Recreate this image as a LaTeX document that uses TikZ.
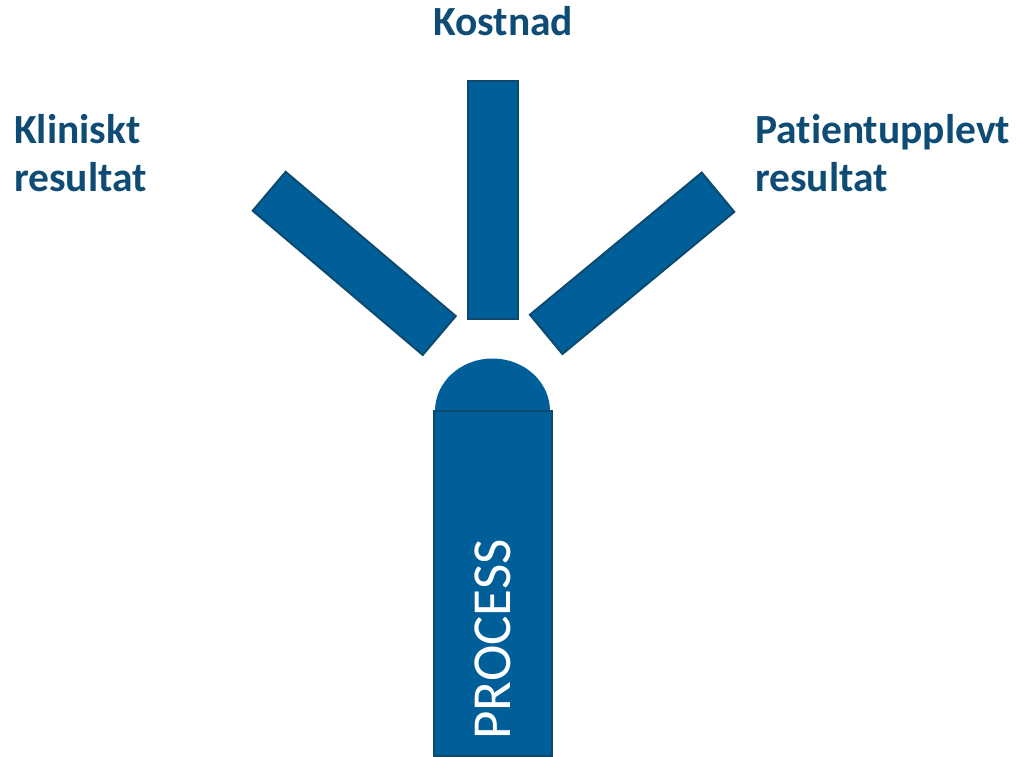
\documentclass[tikz,border=0pt]{standalone}
\usepackage{fontspec}
\setmainfont{Carlito}[Ligatures=NoCommon]
\definecolor{barfill}{HTML}{005F99}
\definecolor{barline}{HTML}{0C4A70}
\definecolor{labeltext}{HTML}{0F4C75}
\begin{document}
\begin{tikzpicture}[x=1pt,y=-1pt,
  bar/.style={draw=barline,fill=barfill,line width=2pt,rectangle,inner sep=0pt,outer sep=0pt},
  lbl/.style={text=labeltext,font=\fontsize{41.5}{48.5}\selectfont\bfseries,inner sep=0pt,align=left}]
\useasboundingbox (0,0) rectangle (1020,757);
% bars
\node[bar,minimum width=223pt,minimum height=51pt,rotate=-40.3] (leftbar) at (354.2,263.4) {};
\node[bar,minimum width=223pt,minimum height=51pt,rotate=39.6] (rightbar) at (632.1,263.3) {};
\node[bar,minimum width=50pt,minimum height=238pt] (midbar) at (493,200) {};
% process
\fill[barfill] (435,411) arc[start angle=180,end angle=0,x radius=57.5pt,y radius=52.5pt] -- cycle;
\node[bar,minimum width=118pt,minimum height=345pt] (process) at (492.5,583.5) {};
\node[text=white,font=\fontsize{55}{60}\selectfont,rotate=90,inner sep=0pt] (proctext) at (493,639.5) {PROCESS};
% labels
\node[lbl,anchor=base west] (kostnad) at (433,36) {Kostnad};
\node[lbl,anchor=base west] (klin) at (14,191.7) {Kliniskt\\resultat};
\node[lbl,anchor=base west] (pat) at (755,191.7) {Patientupplevt\\resultat};
\end{tikzpicture}
\end{document}
